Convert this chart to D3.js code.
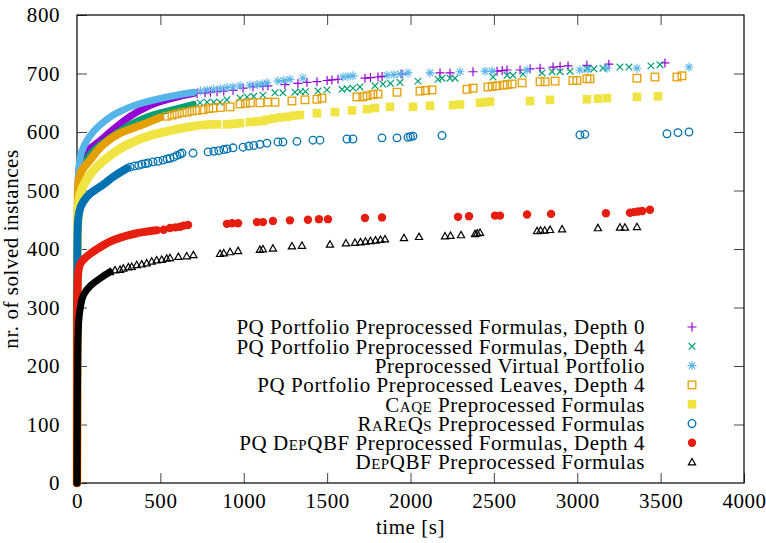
<!DOCTYPE html>
<html>
<head>
<meta charset="utf-8">
<script src="https://cdn.jsdelivr.net/npm/d3@7"></script>
<style>
body { margin: 0; background: #fff; }
#graph { width: 766px; height: 543px; }
</style>
</head>
<body>
<div id="graph"></div>
<script>
// axis ticks
var xTicks = [0, 500, 1000, 1500, 2000, 2500, 3000, 3500, 4000]
var yTicks = [0, 100, 200, 300, 400, 500, 600, 700, 800]

// legend labels (parts marked true are set in small caps)
var labels = [
    [["PQ Portfolio Preprocessed Formulas, Depth 0", false]],
    [["PQ Portfolio Preprocessed Formulas, Depth 4", false]],
    [["Preprocessed Virtual Portfolio", false]],
    [["PQ Portfolio Preprocessed Leaves, Depth 4", false]],
    [["Caqe", true], [" Preprocessed Formulas", false]],
    [["RaReQs", true], [" Preprocessed Formulas", false]],
    [["PQ ", false], ["DepQBF", true], [" Preprocessed Formulas, Depth 4", false]],
    [["DepQBF", true], [" Preprocessed Formulas", false]]
]

// cactus data: [time in s, solved instances]; dense head of each series + single marks
var pq0Dense = [[0,0],[1,300],[3,450],[8,520],[20,550],[60,568],[138,585],[198,600],[258,614],[360,634],[480,650],[618,661],[700,666]]
var pq0Pts = [[720,666],[768,667],[800,668],[840,669],[880,670],[936,671],[996,675],[1055,677],[1115,678],[1145,679],[1247,681],[1325,683],[1379,685],[1439,686],[1500,688],[1529,689],[1565,690],[1727,692],[1760,693],[1805,694],[1830,695],[1949,699],[2177,701],[2237,701],[2375,703],[2519,704],[2550,705],[2579,706],[2657,706],[2717,708],[2777,709],[2855,711],[2897,712],[2945,713],[3058,714],[3190,716],[3526,718]]

var pq4Dense = [[0,0],[1,300],[3,440],[8,500],[20,530],[50,550],[97,569],[198,591],[318,613],[456,630],[618,642],[700,648]]
var pq4Pts = [[738,650],[780,651],[820,651],[858,651],[899,655],[978,658],[1020,660],[1060,661],[1115,663],[1187,667],[1235,667],[1307,668],[1340,669],[1370,669],[1445,670],[1499,672],[1589,673],[1620,674],[1655,675],[1697,677],[1787,679],[1835,682],[1880,683],[1937,685],[2045,687],[2165,690],[2189,692],[2237,692],[2267,692],[2495,694],[2579,697],[2615,697],[2675,699],[2789,701],[2849,703],[2897,703],[2957,704],[3058,708],[3100,708],[3154,709],[3256,711],[3310,711],[3442,713],[3496,715]]

var virtDense = [[0,0],[0.5,250],[2,420],[5,500],[12,540],[30,568],[70,590],[130,610],[250,634],[360,647],[480,656],[618,664],[700,668]]
var virtPts = [[740,670],[780,672],[820,673],[860,674],[900,676],[936,677],[978,679],[1037,680],[1080,681],[1110,682],[1139,684],[1205,687],[1240,688],[1277,690],[1355,692],[1595,694],[1625,695],[1655,696],[1859,697],[1900,698],[1940,699],[1985,701],[2117,701],[2297,703],[2447,704],[2489,704],[2699,706],[3016,706],[3064,707],[3178,709],[3358,709],[3670,711]]

var leavesDense = [[0,0],[1,300],[2,430],[5,490],[10,515],[30,535],[78,552],[156,578],[258,598],[396,613],[500,625]]
var leavesPts = [[540,627],[570,629],[600,631],[630,633],[660,634],[690,636],[720,637],[756,638],[790,640],[816,641],[860,642],[918,643],[978,648],[1010,649],[1040,650],[1097,650],[1145,651],[1187,651],[1289,653],[1367,655],[1439,656],[1469,658],[1679,660],[1715,660],[1740,662],[1775,664],[1805,665],[1919,668],[2057,670],[2090,671],[2129,672],[2339,673],[2375,675],[2465,677],[2490,678],[2519,679],[2555,680],[2580,681],[2609,682],[2669,684],[2777,686],[2807,686],[2867,687],[2974,688],[2998,688],[3058,691],[3076,691],[3358,692],[3466,694],[3598,694],[3628,696]]

var caqeDense = [[0,0],[1,280],[3,420],[8,470],[20,495],[50,515],[100,535],[200,560],[300,578],[450,595],[600,605],[720,611]]
var caqePts = [[760,612],[800,613],[840,613],[899,613],[940,614],[978,615],[1037,617],[1080,618],[1115,619],[1139,621],[1175,623],[1220,625],[1260,626],[1300,628],[1337,629],[1439,632],[1547,634],[1649,637],[1739,639],[1787,641],[1877,643],[2015,643],[2117,645],[2255,646],[2297,647],[2417,650],[2450,651],[2477,652],[2717,653],[2837,655],[3058,656],[3124,657],[3178,658],[3358,660],[3484,661]]

var rareqsDense = [[0,0],[1,300],[2,400],[5,440],[15,465],[36,480],[80,495],[120,503],[156,510],[216,523],[300,538]]
var rareqsPts = [[318,540],[345,542],[370,543],[390,545],[410,546],[426,547],[456,549],[486,550],[516,552],[540,554],[558,555],[580,557],[600,560],[618,562],[630,564],[696,564],[786,566],[820,567],[850,568],[880,570],[900,571],[936,573],[996,574],[1030,576],[1060,577],[1097,579],[1139,581],[1205,583],[1235,583],[1319,584],[1415,586],[1457,586],[1619,588],[1655,588],[1829,590],[1919,590],[1985,591],[2000,592],[2015,593],[2189,594],[3016,595],[3046,596],[3538,597],[3604,599],[3670,600]]

var pqdepDense = [[0,0],[1,200],[2,300],[5,350],[15,372],[36,381],[80,392],[138,403],[216,415],[300,423],[360,427],[420,430],[480,432]]
var pqdepPts = [[520,433],[558,436],[590,437],[618,438],[640,440],[666,441],[899,443],[930,444],[966,444],[1079,446],[1115,446],[1175,448],[1277,449],[1385,450],[1451,451],[1505,451],[1727,453],[1829,454],[2285,455],[2351,456],[2507,457],[2537,457],[2699,459],[2843,460],[3172,461],[3316,462],[3340,463],[3365,464],[3390,465],[3436,467]]

var depDense = [[0,0],[2,120],[5,230],[10,275],[20,300],[40,322],[80,337],[150,352],[198,361]]
var depPts = [[198,361],[228,364],[258,365],[278,367],[308,369],[328,370],[358,373],[388,374],[418,376],[448,379],[478,381],[508,382],[538,384],[558,385],[608,387],[658,388],[698,390],[858,392],[880,393],[918,395],[966,397],[1097,399],[1115,400],[1175,401],[1289,405],[1349,406],[1517,408],[1613,410],[1667,411],[1700,412],[1730,413],[1760,414],[1790,415],[1820,416],[1847,417],[1961,419],[2051,421],[2207,422],[2240,423],[2303,424],[2387,426],[2400,427],[2417,428],[2759,431],[2780,432],[2805,432],[2837,433],[2909,434],[3124,436],[3256,437],[3286,437],[3358,438]]

var colors = ["#9400d3", "#009e73", "#56b4e9", "#e69f00", "#f0e442", "#0072b2", "#e51e10", "#000000"]
var shapes = ["plus", "cross", "star", "square", "fsquare", "circle", "fcircle", "triangle"]
var bandWidths = [7, 6, 7, 8, 9, 8, 8, 7]
var denseList = [pq0Dense, pq4Dense, virtDense, leavesDense, caqeDense, rareqsDense, pqdepDense, depDense]
var ptsList = [pq0Pts, pq4Pts, virtPts, leavesPts, caqePts, rareqsPts, pqdepPts, depPts]

var fontFamily = "Liberation Serif, Times New Roman, serif"
var fontSize = 21
var spacing = "0.55px"

var width = 766, height = 543
var margin = {top: 15, left: 77, bottom: 60, right: 22}

var svg = d3.select("#graph").append("svg")
            .attr("width", width).attr("height", height)

var x = d3.scaleLinear().domain([0, 4000]).range([margin.left, width - margin.right])
var y = d3.scaleLinear().domain([0, 800]).range([height - margin.bottom, margin.top])

var styleText = function(sel){
    sel.attr("font-family", fontFamily)
       .attr("font-size", fontSize)
       .attr("letter-spacing", spacing)
       .attr("fill", "#000")
}

var drawMarker = function(g, shape, color){
    if (shape == "plus") {
        g.append("path").attr("d", "M-4.5,0H4.5M0,-4.5V4.5").attr("stroke", color).attr("stroke-width", 1.2)
    } else if (shape == "cross") {
        g.append("path").attr("d", "M-3.3,-3.3L3.3,3.3M-3.3,3.3L3.3,-3.3").attr("stroke", color).attr("stroke-width", 1.2)
    } else if (shape == "star") {
        g.append("path").attr("d", "M-4.5,0H4.5M0,-4.5V4.5M-3.2,-3.2L3.2,3.2M-3.2,3.2L3.2,-3.2").attr("stroke", color).attr("stroke-width", 1.1)
    } else if (shape == "square") {
        g.append("rect").attr("x", -3.8).attr("y", -3.8).attr("width", 7.6).attr("height", 7.6)
         .attr("fill", "none").attr("stroke", color).attr("stroke-width", 1.3)
    } else if (shape == "fsquare") {
        g.append("rect").attr("x", -4.3).attr("y", -4.3).attr("width", 8.6).attr("height", 8.6).attr("fill", color)
    } else if (shape == "circle") {
        g.append("circle").attr("r", 3.8).attr("fill", "none").attr("stroke", color).attr("stroke-width", 1.3)
    } else if (shape == "fcircle") {
        g.append("circle").attr("r", 4.2).attr("fill", color)
    } else {
        g.append("path").attr("d", "M0,-3.6L3.6,2.8H-3.6Z").attr("fill", "none").attr("stroke", color).attr("stroke-width", 1.2)
    }
}

// axes: inward ticks on all four sides
var tickColor = "#444"
svg.append("g").attr("transform", "translate(0," + y(0) + ")")
   .call(d3.axisBottom(x).tickValues(xTicks).tickSize(-10).tickPadding(10).tickFormat(d3.format("d")))
svg.append("g").attr("transform", "translate(0," + y(800) + ")")
   .call(d3.axisTop(x).tickValues(xTicks.slice(1, -1)).tickSize(-10).tickFormat(""))
svg.append("g").attr("transform", "translate(" + x(0) + ",0)")
   .call(d3.axisLeft(y).tickValues(yTicks).tickSize(-10).tickPadding(17).tickFormat(d3.format("d")))
svg.append("g").attr("transform", "translate(" + x(4000) + ",0)")
   .call(d3.axisRight(y).tickValues(yTicks.slice(1, -1)).tickSize(-10).tickFormat(""))

svg.selectAll(".domain").remove()
svg.selectAll(".tick line").attr("stroke", tickColor)
svg.selectAll(".tick text").call(styleText)

svg.append("rect")
   .attr("x", x(0)).attr("y", y(800))
   .attr("width", x(4000) - x(0)).attr("height", y(0) - y(800))
   .attr("fill", "none").attr("stroke", "#000").attr("stroke-width", 1.2)

// axis titles
svg.append("text")
   .attr("transform", "translate(18," + ((y(0) + y(800)) / 2) + ") rotate(-90)")
   .attr("text-anchor", "middle")
   .call(styleText)
   .text("nr. of solved instances")
svg.append("text")
   .attr("x", (x(0) + x(4000)) / 2).attr("y", 534)
   .attr("text-anchor", "middle")
   .call(styleText)
   .text("time [s]")

// series, drawn in gnuplot order (last on top)
var line = d3.line().x(function(d){ return x(d[0]) }).y(function(d){ return y(d[1]) }).curve(d3.curveMonotoneY)

for (var i = 0; i < denseList.length; i++) {
    var sg = svg.append("g").classed("series", true)
    sg.append("path")
      .attr("d", line(denseList[i]))
      .attr("fill", "none")
      .attr("stroke", colors[i])
      .attr("stroke-width", bandWidths[i])
      .attr("stroke-linejoin", "round")
      .attr("stroke-linecap", "round")
    sg.selectAll(".pt")
      .data(ptsList[i])
      .enter()
      .append("g").classed("pt", true)
      .attr("transform", function(d){ return "translate(" + x(d[0]) + "," + y(d[1]) + ")" })
      .each(function(){ drawMarker(d3.select(this), shapes[i], colors[i]) })
}

// legend
var legend = svg.append("g").classed("legend", true)
labels.forEach(function(parts, i){
    var ly = 327 + i * 19.3
    var t = legend.append("text")
                  .attr("x", 645).attr("y", ly).attr("dy", "0.35em")
                  .attr("text-anchor", "end")
                  .call(styleText)
    parts.forEach(function(p){
        t.append("tspan").attr("font-variant", p[1] ? "small-caps" : "normal").text(p[0])
    })
    var mg = legend.append("g").attr("transform", "translate(692," + ly + ")")
    drawMarker(mg, shapes[i], colors[i])
})
</script>
</body>
</html>
